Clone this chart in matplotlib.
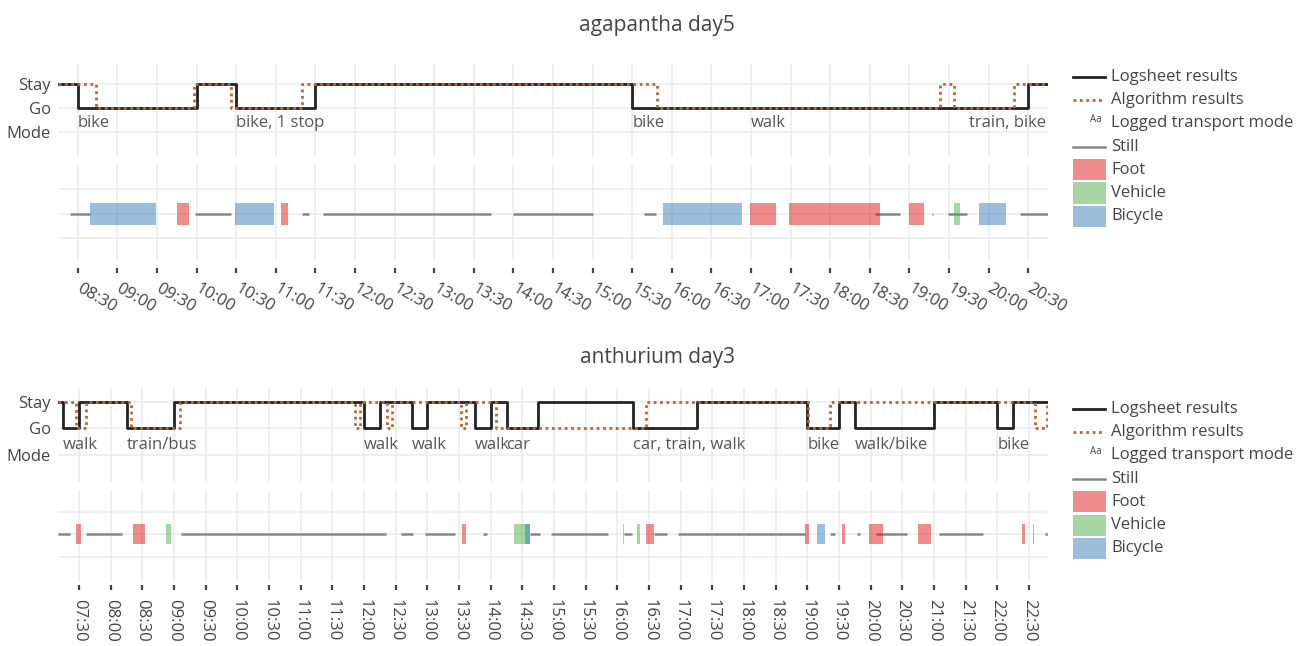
import matplotlib
matplotlib.use("Agg")
import matplotlib.pyplot as plt
from matplotlib.lines import Line2D
from matplotlib.patches import Rectangle

plt.rcParams["font.family"] = ["Open Sans", "DejaVu Sans"]

W, H, DPI = 1297, 646, 100

# ---------------- agapantha day5 ----------------
aga_xrange = ["08:15", "20:45"]
aga_log_t = ["08:15", "08:30", "10:00", "10:30", "11:30", "15:30", "20:30", "20:45"]
aga_log_s = [1, 0, 1, 0, 1, 0, 1, 1]
aga_alg_t = ["08:15", "08:44", "09:58", "10:26", "11:20", "15:49", "19:23", "19:34", "20:19", "20:45"]
aga_alg_s = [1, 0, 1, 0, 1, 0, 1, 0, 1, 1]
aga_trip_t = ["08:30", "10:30", "15:30", "17:00", "19:45"]
aga_trip_mode = ["bike", "bike, 1 stop", "bike", "walk", "train, bike"]
aga_act_mode = ["still", "bicycle", "foot", "still", "bicycle", "foot", "still", "still",
                "still", "still", "bicycle", "foot", "foot", "still", "foot", "still",
                "still", "vehicle", "bicycle", "still"]
aga_act_start = ["08:24", "08:39", "09:45", "09:59", "10:29", "11:04", "11:20", "11:36",
                 "14:00", "15:39", "15:53", "16:59", "17:29", "18:34", "19:00", "19:17",
                 "19:29", "19:34", "19:53", "20:24"]
aga_act_end = ["08:39", "09:29", "09:54", "10:26", "10:59", "11:09", "11:25", "13:43",
               "15:00", "15:48", "16:53", "17:19", "18:38", "18:53", "19:11", "19:18",
               "19:44", "19:38", "20:13", "20:45"]
aga_ticks = ["08:30", "09:00", "09:30", "10:00", "10:30", "11:00", "11:30", "12:00",
             "12:30", "13:00", "13:30", "14:00", "14:30", "15:00", "15:30", "16:00",
             "16:30", "17:00", "17:30", "18:00", "18:30", "19:00", "19:30", "20:00", "20:30"]

# ---------------- anthurium day3 ----------------
ant_xrange = ["07:10", "22:48"]
ant_log_t = ["07:10", "07:15", "07:30", "08:15", "09:00", "12:00", "12:15", "12:45", "13:00",
             "13:45", "14:00", "14:15", "14:45", "16:15", "17:15", "19:00", "19:30", "19:45",
             "21:00", "22:00", "22:15", "22:48"]
ant_log_s = [1, 0, 1, 0, 1, 0, 1, 0, 1, 0, 1, 0, 1, 0, 1, 0, 1, 0, 1, 0, 1, 1]
ant_alg_t = ["07:10", "07:27", "07:37", "08:19", "09:06", "11:51", "11:56", "12:22", "12:26",
             "13:32", "13:37", "14:05", "16:27", "19:01", "19:21", "22:36", "22:47", "22:48"]
ant_alg_s = [1, 0, 1, 0, 1, 0, 1, 0, 1, 0, 1, 0, 1, 0, 1, 0, 1, 1]
ant_trip_t = ["07:15", "08:15", "12:00", "12:45", "13:45", "14:15", "16:15", "19:00", "19:45", "22:00"]
ant_trip_mode = ["walk", "train/bus", "walk", "walk", "walk", "car", "car, train, walk",
                 "bike", "walk/bike", "bike"]
ant_act_mode = ["still", "foot", "still", "foot", "vehicle", "still", "still", "still", "foot",
                "still", "vehicle", "bicycle", "still", "still", "vehicle", "still", "vehicle",
                "foot", "still", "still", "foot", "bicycle", "still", "foot", "still", "foot",
                "still", "foot", "still", "foot", "bicycle", "still"]
ant_act_start = ["07:10", "07:27", "07:37", "08:21", "08:52", "09:07", "12:35", "12:58", "13:33",
                 "13:53", "14:22", "14:32", "14:37", "14:57", "16:05", "16:06", "16:19", "16:27",
                 "16:35", "16:57", "18:58", "19:09", "19:21", "19:33", "19:47", "19:58", "20:05",
                 "20:45", "21:05", "22:23", "22:34", "22:45"]
ant_act_end = ["07:21", "07:32", "08:11", "08:32", "08:57", "12:21", "12:46", "13:26", "13:37",
               "13:56", "14:37", "14:37", "14:47", "15:51", "16:06", "16:14", "16:21", "16:35",
               "16:47", "18:58", "19:02", "19:17", "19:26", "19:36", "19:50", "20:12", "20:34",
               "20:57", "21:46", "22:26", "22:35", "22:48"]
ant_ticks = ["07:30", "08:00", "08:30", "09:00", "09:30", "10:00", "10:30", "11:00", "11:30",
             "12:00", "12:30", "13:00", "13:30", "14:00", "14:30", "15:00", "15:30", "16:00",
             "16:30", "17:00", "17:30", "18:00", "18:30", "19:00", "19:30", "20:00", "20:30",
             "21:00", "21:30", "22:00", "22:30"]

BLACK = "#222222"
ORANGE = "#c4622d"
STILL = "#888888"
MODE_COL = {"foot": "#e41a1c", "vehicle": "#4daf4a", "bicycle": "#377eb8"}
GRID = "#ebebeb"
TXT = "#555555"
FS = 12


def hrs(s):
    h, m = s.split(":")
    return int(h) + int(m) / 60


def px_axes(fig, left, right, top, bottom):
    return fig.add_axes([left / W, 1 - bottom / H, (right - left) / W, (bottom - top) / H])


def style(ax, xr):
    ax.set_xlim(hrs(xr[0]), hrs(xr[1]))
    for s in ax.spines.values():
        s.set_visible(False)
    ax.grid(True, color=GRID, lw=1.1)
    ax.set_axisbelow(True)


def draw_panel(fig, title, title_y, boxes, xr, log_t, log_s, alg_t, alg_s,
               trip_t, trip_mode, act_mode, act_start, act_end, ticks, rot, tpad, toff, ylims):
    (t_top, t_bot), (b_top, b_bot) = boxes
    fig.text(657 / W, 1 - title_y / H, title, ha="center", va="center", fontsize=15, color="#444444")

    # stay/go strip
    ax = px_axes(fig, 58, 1048, t_top, t_bot)
    style(ax, xr)
    ax.set_ylim(*ylims[0])
    ax.step([hrs(t) for t in log_t], log_s, where="post", color=BLACK, lw=2, zorder=3)
    ax.step([hrs(t) for t in alg_t], alg_s, where="post", color=ORANGE, lw=2,
            linestyle=(0, (1, 1.3)), zorder=4)
    for t, m in zip(trip_t, trip_mode):
        ax.text(hrs(t), -0.63, m, ha="left", va="center", fontsize=FS, color=TXT)
    ax.set_yticks([1, 0, -1])
    ax.set_yticklabels(["Stay", "Go", "Mode"], fontsize=FS, color="#444444")
    ax.tick_params(axis="y", length=0, pad=5)
    ax.set_xticks([hrs(t) for t in ticks])
    ax.tick_params(axis="x", length=0, labelbottom=False)

    # activity strip
    bx = px_axes(fig, 58, 1048, b_top, b_bot)
    style(bx, xr)
    bx.set_ylim(*ylims[1])
    bx.set_yticks([-1, 0, 1])
    bx.tick_params(axis="y", length=0, labelleft=False)
    for m, s, e in zip(act_mode, act_start, act_end):
        if m == "still":
            bx.hlines(0, hrs(s), hrs(e), color=STILL, lw=1.8, zorder=2)
    for m, s, e in zip(act_mode, act_start, act_end):
        if m != "still":
            bx.barh(0, hrs(e) - hrs(s), left=hrs(s), height=0.9, color=MODE_COL[m],
                    alpha=0.5, zorder=3)
    bx.set_xticks([hrs(t) for t in ticks])
    bx.spines["bottom"].set_position(("outward", toff))
    bx.tick_params(axis="x", length=3.5, width=1.6, color="#444444", pad=tpad)
    bx.set_xticklabels(ticks, rotation=rot, ha="left", va="center",
                       rotation_mode="anchor", fontsize=FS, color="#444444")


def legend(fig, y0):
    def fx(x):
        return x / W

    def fy(y):
        return 1 - y / H

    step = 23.2
    ys = [y0 + i * step for i in range(7)]
    fig.add_artist(Line2D([fx(1073), fx(1105)], [fy(ys[0])] * 2, color=BLACK, lw=2))
    fig.add_artist(Line2D([fx(1073), fx(1105)], [fy(ys[1])] * 2, color=ORANGE, lw=2,
                          linestyle=(0, (1, 1.3))))
    fig.text(fx(1090), fy(ys[2] - 4), "Aa", fontsize=7, color="#444444", ha="left", va="center")
    fig.add_artist(Line2D([fx(1073), fx(1105)], [fy(ys[3])] * 2, color=STILL, lw=1.8))
    for i, m in enumerate(["foot", "vehicle", "bicycle"]):
        y = ys[4 + i]
        fig.add_artist(Rectangle((fx(1073), fy(y + 10.5)), fx(32.5), 21 / H,
                                 color=MODE_COL[m], alpha=0.5, lw=0))
    labels = ["Logsheet results", "Algorithm results", "Logged transport mode", "Still",
              "Foot", "Vehicle", "Bicycle"]
    for y, lab in zip(ys, labels):
        fig.text(fx(1111), fy(y), lab, fontsize=FS, color="#444444", ha="left", va="center")


fig = plt.figure(figsize=(W / DPI, H / DPI), dpi=DPI)

draw_panel(fig, "agapantha day5", 25, [(64, 157), (165, 260)], aga_xrange,
           aga_log_t, aga_log_s, aga_alg_t, aga_alg_s, aga_trip_t, aga_trip_mode,
           aga_act_mode, aga_act_start, aga_act_end, aga_ticks,
           rot=-30, tpad=10, toff=6, ylims=[(-2.03, 1.85), (-1.88, 2.0)])
legend(fig, 77)

draw_panel(fig, "anthurium day3", 358, [(388, 482), (490, 582)], ant_xrange,
           ant_log_t, ant_log_s, ant_alg_t, ant_alg_s, ant_trip_t, ant_trip_mode,
           ant_act_mode, ant_act_start, ant_act_end, ant_ticks,
           rot=-90, tpad=7, toff=2, ylims=[(-2.01, 1.51), (-2.12, 1.97)])
legend(fig, 409)

fig.savefig("out.png", dpi=DPI)
